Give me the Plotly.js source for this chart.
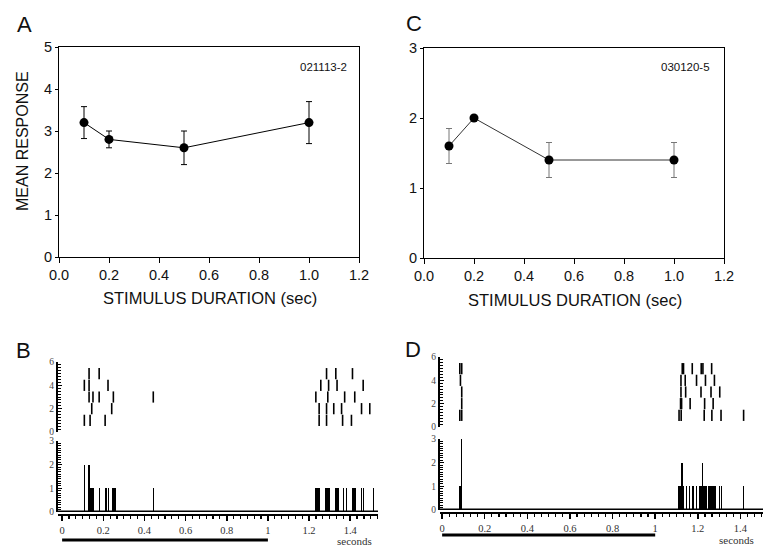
<!DOCTYPE html>
<html>
<head>
<meta charset="utf-8">
<script src="https://cdn.plot.ly/plotly-3.0.1.min.js"></script>
<style>html,body{margin:0;padding:0;background:#fff;}#chart{width:779px;height:552px;}</style>
</head>
<body>
<div id="chart"></div>
<script>
// ---- Panels A & C: mean response vs stimulus duration ----
const durations = [0.1, 0.2, 0.5, 1.0];
const meanA = [3.2, 2.8, 2.6, 3.2];
const errA  = [0.38, 0.2, 0.4, 0.5];
const meanC = [1.6, 2.0, 1.4, 1.4];
const errC  = [0.25, 0, 0.25, 0.25];
const cellA = "021113-2";
const cellC = "030120-5";

// ---- Panel B raster (trial rows 1..5, spike times in s) ----
const rasterB_1 = [0.108, 0.136, 0.209, 1.249, 1.285, 1.363, 1.406];
const rasterB_2 = [0.144, 0.241, 1.249, 1.285, 1.320, 1.358, 1.455, 1.495];
const rasterB_3 = [0.131, 0.150, 0.180, 0.249, 0.443, 1.233, 1.291, 1.373, 1.422];
const rasterB_4 = [0.108, 0.131, 0.223, 1.257, 1.295, 1.336, 1.463];
const rasterB_5 = [0.131, 0.180, 1.285, 1.330, 1.411];
// ---- Panel B histogram ----
const histB_t = [0.108, 0.131, 0.135, 0.139, 0.143, 0.147, 0.151, 0.180, 0.209, 0.217, 0.225, 0.243, 0.252, 0.260, 0.445,
                 1.231, 1.235, 1.240, 1.244, 1.252, 1.282, 1.287, 1.292, 1.297, 1.301, 1.328, 1.333, 1.337, 1.341,
                 1.366, 1.382, 1.414, 1.418, 1.422, 1.427, 1.455, 1.463, 1.512];
const histB_n = [2, 2, 1, 1, 1, 1, 1, 1, 1, 1, 1, 1, 1, 1, 1,
                 1, 1, 1, 1, 1, 1, 1, 1, 1, 1, 1, 1, 1, 1,
                 1, 1, 1, 1, 1, 1, 1, 1, 1];
const stimB = [0, 1.0];

// ---- Panel D raster ----
const rasterD_1 = [0.083, 0.092, 1.112, 1.122, 1.230, 1.266, 1.309, 1.415];
const rasterD_2 = [0.092, 1.119, 1.124, 1.164, 1.232, 1.272];
const rasterD_3 = [0.092, 1.121, 1.143, 1.215, 1.262, 1.303];
const rasterD_4 = [0.086, 1.121, 1.141, 1.194, 1.236, 1.278];
const rasterD_5 = [0.083, 0.092, 1.127, 1.133, 1.174, 1.216, 1.224, 1.265];
// ---- Panel D histogram ----
const histD_t = [0.083, 0.087, 0.092,
                 1.110, 1.114, 1.118, 1.122, 1.126, 1.130, 1.134, 1.146, 1.160, 1.178, 1.194,
                 1.210, 1.214, 1.218, 1.223, 1.227, 1.231, 1.235, 1.240,
                 1.250, 1.254, 1.258, 1.262, 1.266, 1.270, 1.274, 1.278, 1.282, 1.301, 1.311, 1.416];
const histD_n = [1, 1, 3,
                 1, 1, 1, 1, 2, 1, 1, 1, 1, 1, 1,
                 1, 1, 1, 2, 1, 1, 1, 1,
                 1, 1, 1, 1, 1, 1, 1, 1, 1, 1, 1, 1];
const stimD = [0, 1.0];

const W = 779, H = 552;
const px = v => v / W;
const py = v => 1 - v / H;

const sans = 'Liberation Sans, Arial, sans-serif';
const serif = 'Liberation Serif, Times New Roman, serif';

const traces = [];
traces.push({
  x: durations, y: meanA, xaxis: 'x', yaxis: 'y', type: 'scatter', mode: 'lines+markers',
  line: {color: '#000', width: 1},
  marker: {color: '#000', size: 9},
  error_y: {type: 'data', array: errA, visible: true, color: '#000', thickness: 1, width: 3},
  hoverinfo: 'x+y'
});
traces.push({
  x: durations, y: meanC, xaxis: 'x2', yaxis: 'y2', type: 'scatter', mode: 'lines+markers',
  line: {color: '#333', width: 1},
  marker: {color: '#000', size: 9},
  error_y: {type: 'data', array: errC, visible: true, color: '#777', thickness: 1, width: 3},
  hoverinfo: 'x+y'
});

function addRaster(rows, xa, ya) {
  rows.forEach((times, i) => {
    traces.push({
      x: times, y: times.map(() => i + 1), xaxis: xa, yaxis: ya,
      type: 'scatter', mode: 'markers',
      marker: {symbol: 'line-ns-open', size: 8, color: '#000', line: {color: '#000', width: 1.6}},
      hoverinfo: 'x'
    });
  });
}
addRaster([rasterB_1, rasterB_2, rasterB_3, rasterB_4, rasterB_5], 'x3', 'y3');
addRaster([rasterD_1, rasterD_2, rasterD_3, rasterD_4, rasterD_5], 'x4', 'y5');

traces.push({x: histB_t, y: histB_n, xaxis: 'x3', yaxis: 'y4', type: 'bar', width: 0.006,
  marker: {color: '#000', line: {width: 0}}, hoverinfo: 'x+y'});
traces.push({x: histD_t, y: histD_n, xaxis: 'x4', yaxis: 'y6', type: 'bar', width: 0.006,
  marker: {color: '#000', line: {width: 0}}, hoverinfo: 'x+y'});

const topX = (dom) => ({
  domain: dom, range: [0, 1.2], dtick: 0.2, tick0: 0, tickformat: '.1f',
  showline: true, mirror: true, linecolor: '#000', linewidth: 1,
  ticks: 'outside', ticklen: 5, tickcolor: '#000', showgrid: false, zeroline: false,
  tickfont: {family: sans, size: 14.5, color: '#111'}
});
const topY = (dom, max, anchor) => ({
  domain: dom, range: [0, max], dtick: 1, anchor: anchor,
  showline: true, mirror: true, linecolor: '#000', linewidth: 1,
  ticks: 'outside', ticklen: 3, tickcolor: '#000', showgrid: false, zeroline: false,
  tickfont: {family: sans, size: 14.5, color: '#111'}
});
const timeX = (dom, rng, posPx) => ({
  domain: dom, range: rng, anchor: 'free', position: py(posPx),
  dtick: 0.2, tick0: 0, showline: true, linecolor: '#000', linewidth: 2,
  ticks: 'outside', ticklen: 5, tickwidth: 1.5, tickcolor: '#000',
  minor: {dtick: 0.2 / 6, ticks: 'outside', ticklen: 3, tickwidth: 1.2, tickcolor: '#000'},
  showgrid: false, zeroline: false,
  tickfont: {family: serif, size: 10.5, color: '#333'}
});
const smallY = (dom, max, anchor, minorStep) => ({
  domain: dom, range: [0, max], anchor: anchor, dtick: (max === 6 ? 2 : 1),
  showline: true, linecolor: '#000', linewidth: 2,
  ticks: 'inside', ticklen: 4, tickwidth: 1.3, tickcolor: '#000',
  minor: {dtick: minorStep, ticks: 'inside', ticklen: 3, tickwidth: 1, tickcolor: '#000'},
  showgrid: false, zeroline: false,
  tickfont: {family: serif, size: 9.5, color: '#444'}
});

function note(text, x, y, font, extra) {
  return Object.assign({text: text, x: px(x), y: py(y), xref: 'paper', yref: 'paper',
    xanchor: 'center', yanchor: 'middle', showarrow: false, font: font}, extra || {});
}
const letterFont = {family: sans, size: 22, color: '#111'};
const titleFont = {family: sans, size: 16.5, color: '#111'};

const layout = {
  width: W, height: H,
  margin: {l: 0, r: 0, t: 0, b: 0},
  paper_bgcolor: '#fff', plot_bgcolor: 'rgba(0,0,0,0)',
  showlegend: false, bargap: 0,
  xaxis: topX([px(59), px(359)]),
  yaxis: topY([py(257), py(47)], 5, 'x'),
  xaxis2: Object.assign(topX([px(424), px(724)]), {anchor: 'y2'}),
  yaxis2: topY([py(258), py(48)], 3, 'x2'),
  xaxis3: timeX([px(58), px(378)], [-0.02, 1.535], 515),
  yaxis3: smallY([py(432), py(362)], 6, 'x3', 0.25),
  yaxis4: smallY([py(512), py(441)], 3, 'x3', 0.1),
  xaxis4: timeX([px(440), px(763)], [-0.01, 1.506], 513),
  yaxis5: smallY([py(427), py(357)], 6, 'x4', 0.25),
  yaxis6: smallY([py(510), py(439)], 3, 'x4', 0.1),
  shapes: [
    {type: 'line', xref: 'x3 domain', yref: 'y4', x0: 0, x1: 1, y0: 0, y1: 0, line: {color: '#000', width: 3}},
    {type: 'line', xref: 'x4 domain', yref: 'y6', x0: 0, x1: 1, y0: 0, y1: 0, line: {color: '#000', width: 3}},
    {type: 'line', xref: 'x3', yref: 'paper', x0: stimB[0], x1: stimB[1], y0: py(540), y1: py(540), line: {color: '#000', width: 3}},
    {type: 'line', xref: 'x4', yref: 'paper', x0: stimD[0], x1: stimD[1], y0: py(535), y1: py(535), line: {color: '#000', width: 3}}
  ],
  annotations: [
    note('A', 24, 25, letterFont),
    note('C', 414, 24, letterFont),
    note('B', 23, 350, letterFont),
    note('D', 413, 349, letterFont),
    note('MEAN RESPONSE', 22, 141, {family: sans, size: 16, color: '#111'}, {textangle: -90}),
    note('STIMULUS DURATION (sec)', 210, 298, titleFont),
    note('STIMULUS DURATION (sec)', 575, 300, titleFont),
    note(cellA, 323, 67, {family: sans, size: 11.5, color: '#111'}),
    note(cellC, 685, 67, {family: sans, size: 11.5, color: '#111'}),
    note('seconds', 354, 541, {family: serif, size: 11, color: '#333'}),
    note('seconds', 736, 540, {family: serif, size: 11, color: '#333'})
  ]
};

Plotly.newPlot('chart', traces, layout, {staticPlot: true, displayModeBar: false});
</script>
</body>
</html>
